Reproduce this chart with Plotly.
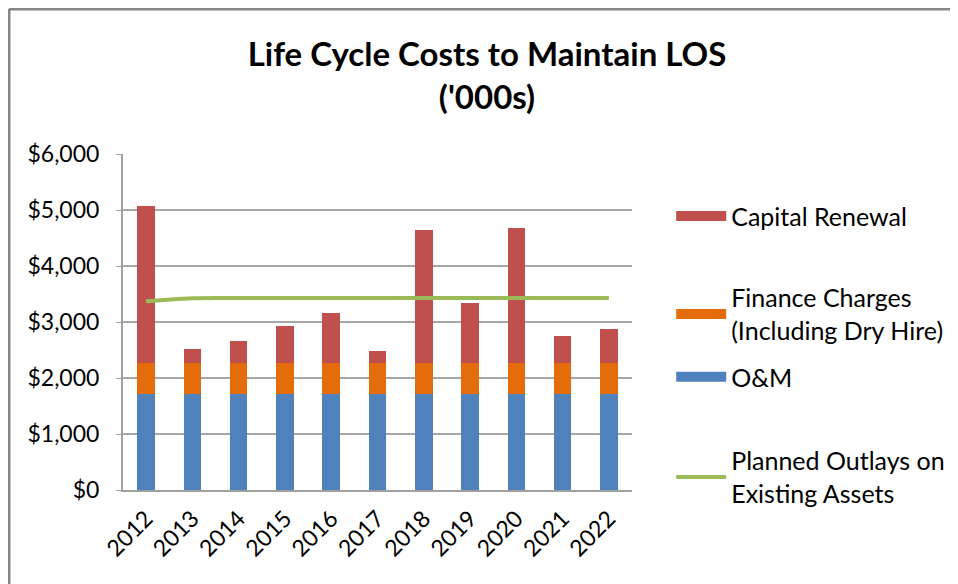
import plotly.graph_objects as go

years = ["2012", "2013", "2014", "2015", "2016", "2017", "2018", "2019", "2020", "2021", "2022"]
om = [1720, 1720, 1720, 1720, 1720, 1720, 1720, 1720, 1720, 1720, 1720]
finance = [555, 555, 555, 555, 555, 555, 555, 555, 555, 555, 555]
capital = [2790, 250, 390, 660, 890, 210, 2360, 1070, 2400, 480, 595]
planned = [3370, 3425, 3430, 3430, 3430, 3430, 3430, 3430, 3430, 3430, 3430]
y_ticks = [0, 1000, 2000, 3000, 4000, 5000, 6000]
y_labels = ["$0", "$1,000", "$2,000", "$3,000", "$4,000", "$5,000", "$6,000"]

FONT = "Lato, Open Sans, sans-serif"
BLUE, ORANGE, RED, GREEN = "#4f81bd", "#e46c0a", "#c0504d", "#9bbb59"

fig = go.Figure()
fig.add_trace(go.Bar(x=years, y=om, name="O&M", marker_color=BLUE,
                     marker_line_width=0, showlegend=False))
fig.add_trace(go.Bar(x=years, y=finance, name="Finance Charges", marker_color=ORANGE,
                     marker_line_width=0, showlegend=False))
fig.add_trace(go.Bar(x=years, y=capital, name="Capital Renewal", marker_color=RED,
                     marker_line_width=0, showlegend=False))
fig.add_trace(go.Scatter(x=years, y=planned, name="Planned Outlays on<br>Existing Assets",
                         mode="lines", line=dict(color=GREEN, width=4, shape="spline"),
                         legend="legend4"))

# legend swatches drawn as thick lines so they look like the wide Excel keys
fig.add_trace(go.Scatter(x=[None], y=[None], mode="lines", name="Capital Renewal",
                         line=dict(color=RED, width=15), legend="legend"))
fig.add_trace(go.Scatter(x=[None], y=[None], mode="lines",
                         name="Finance Charges<br>(Including Dry Hire)",
                         line=dict(color=ORANGE, width=15), legend="legend2"))
fig.add_trace(go.Scatter(x=[None], y=[None], mode="lines", name="O&M",
                         line=dict(color=BLUE, width=15), legend="legend3"))

leg = dict(x=1.077, xanchor="left", yanchor="middle", font=dict(family=FONT, size=25),
           itemwidth=50, bgcolor="rgba(0,0,0,0)")

# page body has an 8px margin, so the figure is 8px smaller to avoid overflow
fig.update_layout(
    width=950, height=576,
    barmode="stack", bargap=0.62,
    paper_bgcolor="white", plot_bgcolor="white",
    margin=dict(l=115, r=326, t=146, b=94, autoexpand=False),
    font=dict(family=FONT, size=24, color="black"),
    title=dict(text="<b>Life Cycle Costs to Maintain LOS<br>('000s)</b>",
               x=0.5042, xanchor="center", y=0.8986, yanchor="top",
               font=dict(family=FONT, size=33, color="black")),
    legend=dict(leg, y=0.815),
    legend2=dict(leg, y=0.524),
    legend3=dict(leg, y=0.336),
    legend4=dict(leg, y=0.039),
    xaxis=dict(tickangle=-45, showline=True, linecolor="#a0a0a0", linewidth=2,
               ticks="", tickfont=dict(size=23), ticklabelstandoff=4),
    yaxis=dict(range=[0, 6000], tickvals=y_ticks, ticktext=y_labels,
               showgrid=True, gridcolor="#a6a6a6", gridwidth=2,
               showline=True, linecolor="#a0a0a0", linewidth=2,
               ticks="outside", ticklen=5, tickcolor="#a0a0a0",
               zeroline=False, tickfont=dict(size=23), ticklabelstandoff=12),
)

# outer chart border (top and left edges visible)
fig.add_shape(type="line", xref="paper", yref="paper", x0=-0.224, x1=1.7, y0=1.4315, y1=1.4315,
              line=dict(color="#868686", width=3))
fig.add_shape(type="line", xref="paper", yref="paper", x0=-0.224, x1=-0.224, y0=-0.4, y1=1.4315,
              line=dict(color="#868686", width=3))

fig.write_html("out.html", config={"displayModeBar": False})
